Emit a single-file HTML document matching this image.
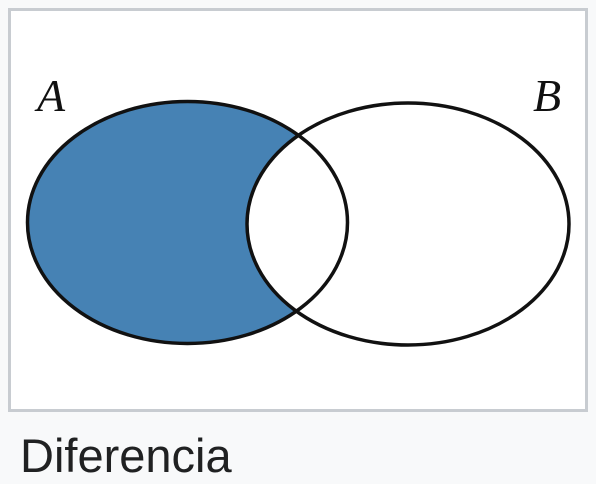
<!DOCTYPE html>
<html><head><style>
html,body{margin:0;padding:0;background:#f8f9fa;width:596px;height:484px;overflow:hidden}
.f{position:absolute;left:8px;top:8px;width:574px;height:398px;border:3px solid #c8ccd1;background:#fff}
.c{position:absolute;left:20px;top:429px;font:47px "Liberation Sans",sans-serif;color:#202122;line-height:54px}
</style></head><body>
<div class="f"></div>
<svg style="position:absolute;left:0;top:0" width="596" height="484">
<ellipse cx="187.5" cy="222.5" rx="160" ry="121" fill="#4682b4"/>
<ellipse cx="408" cy="224" rx="161" ry="121" fill="#fff"/>
<ellipse cx="187.5" cy="222.5" rx="160" ry="121" fill="none" stroke="#111" stroke-width="3.5"/>
<ellipse cx="408" cy="224" rx="161" ry="121" fill="none" stroke="#111" stroke-width="3.5"/>
<text x="37" y="111" font-family="Liberation Serif,serif" font-style="italic" font-size="46" fill="#111">A</text>
<text x="533" y="111" font-family="Liberation Serif,serif" font-style="italic" font-size="46" fill="#111">B</text>
</svg>
<div class="c">Diferencia</div>
</body></html>
